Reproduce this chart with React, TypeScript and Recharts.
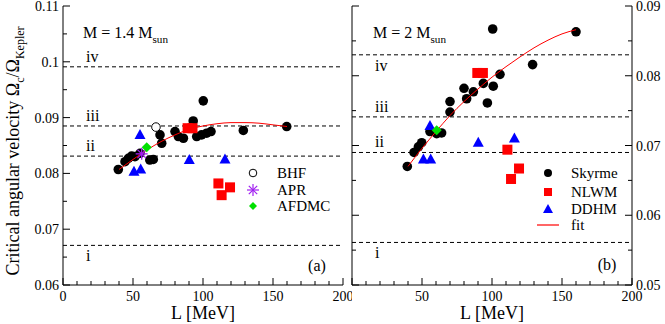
import { ScatterChart, Scatter, XAxis, YAxis, ReferenceLine } from "recharts";

const FONT = '"Liberation Serif", "DejaVu Serif", serif';

// axis ticks
const X_TICKS = [0, 10, 20, 30, 40, 50, 60, 70, 80, 90, 100, 110, 120, 130, 140, 150, 160, 170, 180, 190, 200];
const Y_TICKS_14 = [0.06, 0.065, 0.07, 0.075, 0.08, 0.085, 0.09, 0.095, 0.1, 0.105, 0.11];
const Y_TICKS_2 = [0.05, 0.055, 0.06, 0.065, 0.07, 0.075, 0.08, 0.085, 0.09];

// horizontal frequency lines (Omega_c / Omega_K) and their labels
const LINE_LABELS = ["iv", "iii", "ii", "i"];
const LINES_14 = [0.0991, 0.0885, 0.0831, 0.0671];
const LINES_2 = [0.083, 0.0741, 0.069, 0.0561];

// M = 1.4 Msun panel
const SKYRME_14 = [
  { L: 39.5, w: 0.0807 }, { L: 44.3, w: 0.0821 }, { L: 46.7, w: 0.0827 }, { L: 49, w: 0.0831 },
  { L: 51.4, w: 0.083 }, { L: 55, w: 0.0836 }, { L: 62, w: 0.0824 }, { L: 64.5, w: 0.0825 },
  { L: 69.3, w: 0.0869 }, { L: 70.5, w: 0.0854 }, { L: 80, w: 0.0875 }, { L: 82.4, w: 0.0866 },
  { L: 86, w: 0.0863 }, { L: 93, w: 0.0894 }, { L: 95.5, w: 0.0866 }, { L: 99, w: 0.0869 },
  { L: 100.2, w: 0.093 }, { L: 102.6, w: 0.0872 }, { L: 105.7, w: 0.0875 }, { L: 128.8, w: 0.0877 },
  { L: 159.8, w: 0.0884 },
];
const NLWM_14 = [
  { L: 89, w: 0.0881 }, { L: 92.5, w: 0.0881 }, { L: 111, w: 0.0782 }, { L: 113.3, w: 0.0761 }, { L: 119.3, w: 0.0775 },
];
const DDHM_14 = [
  { L: 50.7, w: 0.0803 }, { L: 55.5, w: 0.0807 }, { L: 55, w: 0.0869 }, { L: 90.2, w: 0.0824 }, { L: 115.7, w: 0.0825 },
];
const BHF_14 = [{ L: 66.4, w: 0.0883 }];
const APR_14 = [{ L: 56.2, w: 0.0835 }];
const AFDMC_14 = [{ L: 59.8, w: 0.0847 }];
const FIT_14 = [
  { L: 40, w: 0.0807 }, { L: 50, w: 0.0825 }, { L: 60, w: 0.0842 }, { L: 70, w: 0.0857 },
  { L: 80, w: 0.0869 }, { L: 90, w: 0.0879 }, { L: 100, w: 0.0885 }, { L: 110, w: 0.0889 },
  { L: 120, w: 0.0891 }, { L: 130, w: 0.0891 }, { L: 140, w: 0.089 }, { L: 150, w: 0.0887 },
  { L: 160, w: 0.0884 },
];

// M = 2 Msun panel
const SKYRME_2 = [
  { L: 39.5, w: 0.067 }, { L: 44.3, w: 0.069 }, { L: 47.4, w: 0.0698 }, { L: 49.8, w: 0.0704 },
  { L: 55.7, w: 0.072 }, { L: 60.5, w: 0.0717 }, { L: 64, w: 0.0718 }, { L: 70, w: 0.0748 },
  { L: 70, w: 0.0763 }, { L: 80, w: 0.0782 }, { L: 81.9, w: 0.0767 }, { L: 86.7, w: 0.0777 },
  { L: 93.8, w: 0.0789 }, { L: 96.7, w: 0.0761 }, { L: 100.5, w: 0.0867 }, { L: 100.9, w: 0.0785 },
  { L: 105.7, w: 0.0802 }, { L: 129, w: 0.0816 }, { L: 160, w: 0.0863 },
];
const NLWM_2 = [
  { L: 89.5, w: 0.0804 }, { L: 93.5, w: 0.0804 }, { L: 111, w: 0.0694 }, { L: 113.6, w: 0.0652 }, { L: 119.3, w: 0.0667 },
];
const DDHM_2 = [
  { L: 51, w: 0.068 }, { L: 56.2, w: 0.068 }, { L: 55.7, w: 0.0728 }, { L: 90.2, w: 0.0704 }, { L: 116, w: 0.071 },
];
const AFDMC_2 = [{ L: 60.5, w: 0.0722 }];
const FIT_2 = [
  { L: 40, w: 0.067 }, { L: 50, w: 0.0696 }, { L: 60, w: 0.072 }, { L: 70, w: 0.0743 },
  { L: 80, w: 0.0763 }, { L: 90, w: 0.0781 }, { L: 100, w: 0.0798 }, { L: 110, w: 0.0813 },
  { L: 120, w: 0.0827 }, { L: 130, w: 0.084 }, { L: 140, w: 0.0851 }, { L: 150, w: 0.086 },
  { L: 160, w: 0.0866 },
];

type Side = "bottom" | "top" | "left" | "right";

const isMajorX = (v: number) => v % 50 === 0;
const isMajorY = (v: number) => Math.abs(v * 100 - Math.round(v * 100)) < 1e-6;

// ticks drawn inward, xmgrace style; labels outside
const makeTick = (side: Side, showLabel: (v: number) => boolean) => (props: any) => {
  const { x, y, payload } = props;
  const v = payload.value;
  const major = side === "bottom" || side === "top" ? isMajorX(v) : isMajorY(v);
  const len = major ? 7 : 4;
  const txt = { fontFamily: FONT, fontSize: 14, fill: "#000" };
  let line;
  let label = null;
  if (side === "bottom") {
    line = <line x1={x} x2={x} y1={y} y2={y - len} stroke="#000" />;
    if (major && showLabel(v)) label = <text x={x} y={y + 16} textAnchor="middle" {...txt}>{v}</text>;
  } else if (side === "top") {
    line = <line x1={x} x2={x} y1={y} y2={y + len} stroke="#000" />;
  } else if (side === "left") {
    line = <line x1={x} x2={x + len} y1={y} y2={y} stroke="#000" />;
    if (major && showLabel(v)) label = <text x={x - 4} y={y + 5} textAnchor="end" {...txt}>{String(v)}</text>;
  } else {
    line = <line x1={x} x2={x - len} y1={y} y2={y} stroke="#000" />;
    if (major && showLabel(v)) label = <text x={x + 4} y={y + 5} textAnchor="start" {...txt}>{String(v)}</text>;
  }
  return <g>{line}{label}</g>;
};

const yes = () => true;
const no = () => false;

const Dot = (p: any) => <circle cx={p.cx} cy={p.cy} r={4.8} fill="#000" />;
const Square = (p: any) => <rect x={p.cx - 5} y={p.cy - 5} width={10} height={10} fill="#ff0000" />;
const Triangle = (p: any) => (
  <polygon points={`${p.cx},${p.cy - 6} ${p.cx - 5.5},${p.cy + 4} ${p.cx + 5.5},${p.cy + 4}`} fill="#0000ff" />
);
const Diamond = (p: any) => (
  <polygon points={`${p.cx},${p.cy - 5} ${p.cx + 5},${p.cy} ${p.cx},${p.cy + 5} ${p.cx - 5},${p.cy}`} fill="#00e000" />
);
const OpenCircle = (p: any) => <circle cx={p.cx} cy={p.cy} r={4.3} fill="#fff" stroke="#000" strokeWidth={1} />;
const Star = (p: any) => {
  const r = 6;
  const d = r * 0.707;
  return (
    <g stroke="#a020f0" strokeWidth={1.3}>
      <line x1={p.cx - r} x2={p.cx + r} y1={p.cy} y2={p.cy} />
      <line x1={p.cx} x2={p.cx} y1={p.cy - r} y2={p.cy + r} />
      <line x1={p.cx - d} x2={p.cx + d} y1={p.cy - d} y2={p.cy + d} />
      <line x1={p.cx - d} x2={p.cx + d} y1={p.cy + d} y2={p.cy - d} />
    </g>
  );
};
const Nothing = () => <g />;

const numeral = (text: string, below: boolean) => (p: any) => (
  <text x={p.viewBox.x + 23} y={below ? p.viewBox.y + 16 : p.viewBox.y - 5} fontFamily={FONT} fontSize={16} fill="#000">
    {text}
  </text>
);

function Panel({
  yTicks,
  lines,
  below,
  leftLabels,
  rightLabels,
  xLabel,
  width,
  yAxisW,
  rightW,
  marginRight,
  anchor,
  children,
}: {
  yTicks: number[];
  lines: number[];
  below: string[];
  leftLabels: boolean;
  rightLabels: boolean;
  xLabel: (v: number) => boolean;
  width: number;
  yAxisW: number;
  rightW: number;
  marginRight: number;
  anchor: { L: number; w: number }[];
  children: any;
}) {
  const yDomain = [yTicks[0], yTicks[yTicks.length - 1]];
  return (
    <ScatterChart width={width} height={324} margin={{ top: 6, right: marginRight, bottom: 0, left: 0 }}>
      <XAxis
        xAxisId="top"
        orientation="top"
        type="number"
        dataKey="L"
        domain={[0, 200]}
        ticks={X_TICKS}
        interval={0}
        height={0}
        tickSize={0}
        tickMargin={0}
        tickLine={false}
        axisLine={{ stroke: "#000" }}
        tick={makeTick("top", no)}
        allowDataOverflow
      />
      <XAxis
        type="number"
        dataKey="L"
        domain={[0, 200]}
        ticks={X_TICKS}
        interval={0}
        height={39}
        tickSize={0}
        tickMargin={0}
        tickLine={false}
        axisLine={{ stroke: "#000" }}
        tick={makeTick("bottom", xLabel)}
        allowDataOverflow
      />
      <YAxis
        type="number"
        dataKey="w"
        domain={yDomain}
        ticks={yTicks}
        interval={0}
        width={yAxisW}
        tickSize={0}
        tickMargin={0}
        tickLine={false}
        axisLine={{ stroke: "#000" }}
        tick={makeTick("left", leftLabels ? yes : no)}
        allowDataOverflow
      />
      <YAxis
        yAxisId="right"
        orientation="right"
        type="number"
        dataKey="w"
        domain={yDomain}
        ticks={yTicks}
        interval={0}
        width={rightW}
        tickSize={0}
        tickMargin={0}
        tickLine={false}
        axisLine={{ stroke: "#000" }}
        tick={makeTick("right", rightLabels ? yes : no)}
        allowDataOverflow
      />
      {/* invisible series so the mirror axes get drawn */}
      <Scatter data={anchor} xAxisId="top" yAxisId="right" shape={Nothing} isAnimationActive={false} />
      {lines.map((v, i) => (
        <ReferenceLine
          key={LINE_LABELS[i]}
          y={v}
          stroke="#000"
          strokeDasharray="4 3"
          label={numeral(LINE_LABELS[i], below.includes(LINE_LABELS[i]))}
        />
      ))}
      {children}
    </ScatterChart>
  );
}

const sub = (main: string, s: string, size = 16) => (
  <>
    <tspan>{main}</tspan>
    <tspan dy={5} fontSize={size * 0.7}>{s}</tspan>
    <tspan dy={-5}> </tspan>
  </>
);

export default function App() {
  return (
    <div style={{ position: "absolute", left: 0, top: 0, width: 665, height: 324, background: "#fff" }}>
      <div style={{ position: "absolute", left: 0, top: 0 }}>
        <Panel
          yTicks={Y_TICKS_14}
          lines={LINES_14}
          below={["i"]}
          leftLabels
          rightLabels={false}
          xLabel={yes}
          width={352}
          yAxisW={63}
          rightW={0}
          marginRight={9}
          anchor={SKYRME_14}
        >
          <Scatter data={SKYRME_14} shape={Dot} isAnimationActive={false} />
          <Scatter data={FIT_14} shape={Nothing} line={{ stroke: "#ff0000", strokeWidth: 1 }} lineJointType="monotoneX" isAnimationActive={false} />
          <Scatter data={NLWM_14} shape={Square} isAnimationActive={false} />
          <Scatter data={DDHM_14} shape={Triangle} isAnimationActive={false} />
          <Scatter data={BHF_14} shape={OpenCircle} isAnimationActive={false} />
          <Scatter data={APR_14} shape={Star} isAnimationActive={false} />
          <Scatter data={AFDMC_14} shape={Diamond} isAnimationActive={false} />
        </Panel>
      </div>
      <div style={{ position: "absolute", left: 345, top: 0 }}>
        <Panel
          yTicks={Y_TICKS_2}
          lines={LINES_2}
          below={["iv", "i"]}
          leftLabels={false}
          rightLabels
          xLabel={(v) => v !== 0}
          width={320}
          yAxisW={7}
          rightW={33}
          marginRight={0}
          anchor={SKYRME_2}
        >
          <Scatter data={SKYRME_2} shape={Dot} isAnimationActive={false} />
          <Scatter data={FIT_2} shape={Nothing} line={{ stroke: "#ff0000", strokeWidth: 1 }} lineJointType="monotoneX" isAnimationActive={false} />
          <Scatter data={NLWM_2} shape={Square} isAnimationActive={false} />
          <Scatter data={DDHM_2} shape={Triangle} isAnimationActive={false} />
          <Scatter data={AFDMC_2} shape={Diamond} isAnimationActive={false} />
        </Panel>
      </div>
      <svg width={665} height={324} style={{ position: "absolute", left: 0, top: 0, pointerEvents: "none" }} fontFamily={FONT} fill="#000">
        <text transform="translate(19,151) rotate(-90)" textAnchor="middle" fontSize={18}>
          Critical angular velocity Ω<tspan dy={5} fontSize={12}>c</tspan>
          <tspan dy={-5}>/Ω</tspan>
          <tspan dy={5} fontSize={12}>Kepler</tspan>
        </text>
        <text x={203} y={319} textAnchor="middle" fontSize={18}>L [MeV]</text>
        <text x={492} y={319} textAnchor="middle" fontSize={18}>L [MeV]</text>

        <text x={83} y={38} fontSize={16}>{sub("M = 1.4 M", "sun")}</text>
        <text x={373} y={38} fontSize={16}>{sub("M = 2 M", "sun")}</text>

        <text x={317} y={271} textAnchor="middle" fontSize={16}>(a)</text>
        <text x={607} y={270} textAnchor="middle" fontSize={16}>(b)</text>

        {/* legend (a) */}
        <circle cx={253} cy={173} r={3.8} fill="#fff" stroke="#000" />
        <text x={277} y={178} fontSize={15}>BHF</text>
        <g stroke="#a020f0" strokeWidth={1.2}>
          <line x1={247} x2={259} y1={190} y2={190} />
          <line x1={253} x2={253} y1={184} y2={196} />
          <line x1={248.8} x2={257.2} y1={185.8} y2={194.2} />
          <line x1={248.8} x2={257.2} y1={194.2} y2={185.8} />
        </g>
        <text x={277} y={194.5} fontSize={15}>APR</text>
        <polygon points="253,202 257,206 253,210 249,206" fill="#00e000" />
        <text x={277} y={211} fontSize={15}>AFDMC</text>

        {/* legend (b) */}
        <circle cx={548} cy={173} r={4} fill="#000" />
        <text x={571} y={178} fontSize={15}>Skyrme</text>
        <rect x={544} y={188} width={8} height={8} fill="#ff0000" />
        <text x={571} y={196.5} fontSize={15}>NLWM</text>
        <polygon points="548,204 543,213 553,213" fill="#0000ff" />
        <text x={571} y={213.5} fontSize={15}>DDHM</text>
        <line x1={537} x2={559} y1={225} y2={225} stroke="#ff6666" strokeWidth={2} />
        <text x={571} y={230} fontSize={15}>fit</text>
      </svg>
    </div>
  );
}
